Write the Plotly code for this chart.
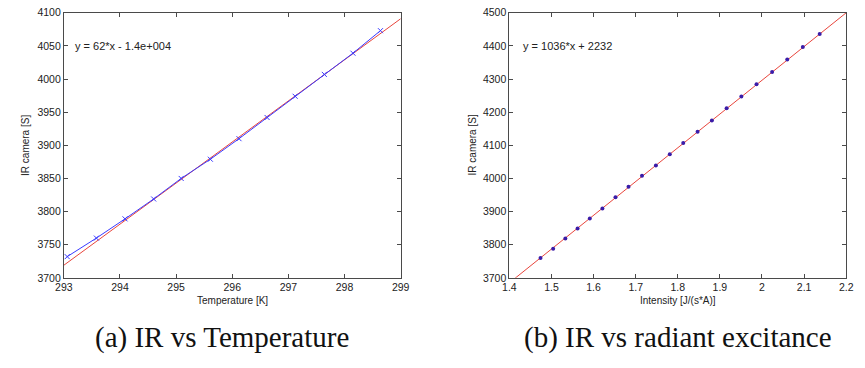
import plotly.graph_objects as go

# ---- data: (a) IR vs Temperature ----
temp_K = [293.06, 293.58, 294.09, 294.60, 295.09, 295.61, 296.12, 296.62, 297.12, 297.64, 298.15, 298.64]
ir_temp = [3732, 3760, 3789, 3819, 3850, 3879, 3910, 3942, 3974, 4007, 4039, 4073]
fit_a_x = [293, 299]
fit_a_y = [3719, 4091]
fit_a_label = "y = 62*x - 1.4e+004"

# ---- data: (b) IR vs radiant excitance ----
intensity = [1.474, 1.504, 1.533, 1.562, 1.591, 1.621, 1.652, 1.683, 1.715, 1.748, 1.781,
             1.813, 1.847, 1.881, 1.916, 1.951, 1.987, 2.024, 2.060, 2.097, 2.137]
ir_int = [3760, 3788, 3819, 3849, 3879, 3909, 3943, 3975, 4008, 4039, 4073,
          4107, 4141, 4175, 4212, 4247, 4284, 4321, 4359, 4397, 4436]
fit_b_x = [1.4, 2.2]
fit_b_y = [3685, 4500]
fit_b_label = "y = 1036*x + 2232"

# ---- ticks ----
xa_ticks = [293, 294, 295, 296, 297, 298, 299]
ya_ticks = [3700, 3750, 3800, 3850, 3900, 3950, 4000, 4050, 4100]
xb_ticks = [1.4, 1.5, 1.6, 1.7, 1.8, 1.9, 2.0, 2.1, 2.2]
xb_ticktext = ["1.4", "1.5", "1.6", "1.7", "1.8", "1.9", "2", "2.1", "2.2"]
yb_ticks = [3700, 3800, 3900, 4000, 4100, 4200, 4300, 4400, 4500]

captions = ["(a) IR vs Temperature", "(b) IR vs radiant excitance"]
x_titles = ["Temperature [K]", "Intensity [J/(s*A)]"]
y_title = "IR camera [S]"

W, H = 865, 368
RED = "#e8453c"
BLUE = "#3a3aff"
DOT = "#3a1ca8"
AX = "#4a4a4a"
SANS = "Liberation Sans, Arial, sans-serif"
SERIF = "Liberation Serif, Times New Roman, serif"

fig = go.Figure()
fig.add_trace(go.Scatter(x=fit_a_x, y=fit_a_y, mode="lines", line=dict(color=RED, width=1),
                         xaxis="x", yaxis="y", showlegend=False))
fig.add_trace(go.Scatter(x=temp_K, y=ir_temp, mode="lines+markers",
                         line=dict(color=BLUE, width=1),
                         marker=dict(symbol="x-thin", size=5, line=dict(color=BLUE, width=1)),
                         xaxis="x", yaxis="y", showlegend=False))
fig.add_trace(go.Scatter(x=fit_b_x, y=fit_b_y, mode="lines", line=dict(color=RED, width=1),
                         xaxis="x2", yaxis="y2", showlegend=False))
fig.add_trace(go.Scatter(x=intensity, y=ir_int, mode="markers",
                         marker=dict(symbol="circle", size=4, color=DOT),
                         xaxis="x2", yaxis="y2", showlegend=False))

ydom = [87 / H, 361 / H]
common = dict(showgrid=False, zeroline=False, showline=True, linecolor=AX, linewidth=1,
              mirror="ticks", ticks="inside", ticklen=4, tickcolor=AX, tickwidth=1,
              tickfont=dict(family=SANS, size=10.5, color="#222"))

fig.update_layout(
    width=W, height=H, margin=dict(l=0, r=0, t=0, b=0),
    paper_bgcolor="white", plot_bgcolor="white",
    xaxis=dict(domain=[56 / W, 400 / W], range=[293, 299], tickvals=xa_ticks,
               anchor="y", **common),
    yaxis=dict(domain=ydom, range=[3700, 4100], tickvals=ya_ticks, anchor="x", **common),
    xaxis2=dict(domain=[511 / W, 855 / W], range=[1.4, 2.2], tickvals=xb_ticks,
                ticktext=xb_ticktext, anchor="y2", **common),
    yaxis2=dict(domain=ydom, range=[3700, 4500], tickvals=yb_ticks, anchor="x2", **common),
)

ann = []
# fit equations
ann.append(dict(x=65 / W, y=1 - 41 / H, xref="paper", yref="paper", text=fit_a_label,
                showarrow=False, xanchor="left", yanchor="middle",
                font=dict(family=SANS, size=11, color="#222")))
ann.append(dict(x=523 / W, y=1 - 41 / H, xref="paper", yref="paper", text=fit_b_label,
                showarrow=False, xanchor="left", yanchor="middle",
                font=dict(family=SANS, size=11, color="#222")))
# axis titles
for cx, t in zip([228, 683], x_titles):
    ann.append(dict(x=cx / W, y=1 - 304 / H, xref="paper", yref="paper", text=t,
                    showarrow=False, xanchor="center", yanchor="middle",
                    font=dict(family=SANS, size=10, color="#222")))
for cx in [17, 473]:
    ann.append(dict(x=cx / W, y=1 - 144 / H, xref="paper", yref="paper", text=y_title,
                    showarrow=False, xanchor="center", yanchor="middle", textangle=-90,
                    font=dict(family=SANS, size=10, color="#222")))
# captions
for cx, t in zip([218, 683], captions):
    ann.append(dict(x=cx / W, y=1 - 343 / H, xref="paper", yref="paper", text=t,
                    showarrow=False, xanchor="center", yanchor="middle",
                    font=dict(family=SERIF, size=29, color="#111")))
fig.update_layout(annotations=ann)

fig.write_html("out.html")
